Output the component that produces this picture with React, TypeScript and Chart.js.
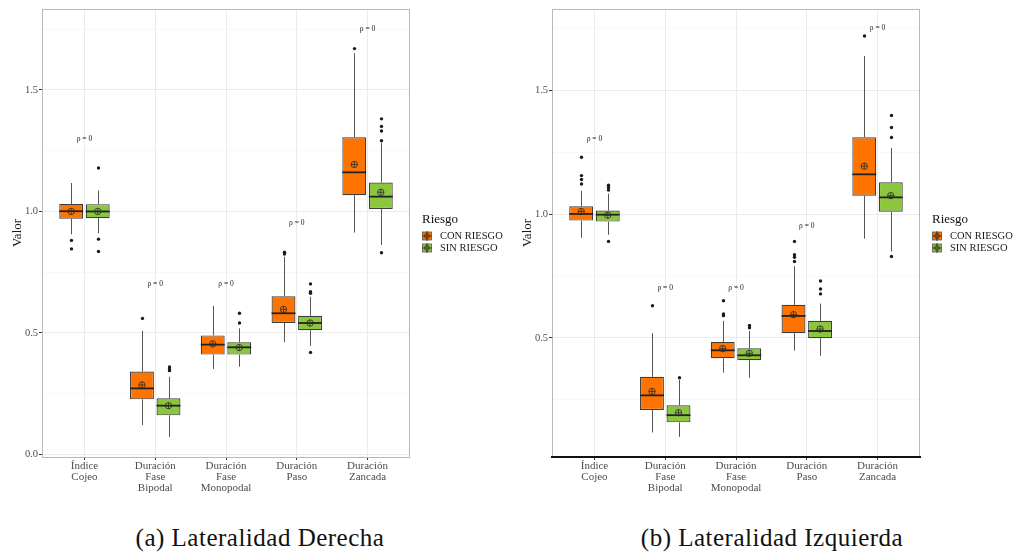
import React, { useEffect, useRef } from "react";
import { Chart, registerables } from "chart.js";
Chart.register(...registerables);

const FONT = "'Liberation Serif', 'Times New Roman', Times, serif";

const categories = [
  ["Índice", "Cojeo"],
  ["Duración", "Fase", "Bipodal"],
  ["Duración", "Fase", "Monopodal"],
  ["Duración", "Paso"],
  ["Duración", "Zancada"],
];
const seriesNames = ["CON RIESGO", "SIN RIESGO"];
const seriesColors = ["#FF7400", "#8CC63F"];
const yTickValues = [0, 0.25, 0.5, 0.75, 1.0, 1.25, 1.5, 1.75];

// ---- (a) Lateralidad Derecha ----
const derConQ1 = [0.970, 0.227, 0.411, 0.541, 1.067];
const derConMed = [1.001, 0.272, 0.452, 0.581, 1.161];
const derConQ3 = [1.031, 0.341, 0.490, 0.651, 1.305];
const derConLo = [0.906, 0.121, 0.352, 0.462, 0.913];
const derConHi = [1.117, 0.509, 0.611, 0.814, 1.651];
const derConMean = [1.000, 0.286, 0.455, 0.597, 1.193];
const derConOut = [[0.881, 0.846], [0.560], [], [0.825, 0.832], [1.670]];

const derSinQ1 = [0.972, 0.161, 0.411, 0.511, 1.010];
const derSinMed = [1.000, 0.201, 0.441, 0.541, 1.061];
const derSinQ3 = [1.030, 0.231, 0.462, 0.571, 1.119];
const derSinLo = [0.910, 0.072, 0.361, 0.447, 0.862];
const derSinHi = [1.086, 0.320, 0.519, 0.649, 1.281];
const derSinMean = [1.000, 0.201, 0.440, 0.541, 1.079];
const derSinOut = [[1.179, 0.886, 0.835], [0.360, 0.352, 0.345], [0.581, 0.541], [0.702, 0.670, 0.663, 0.420], [1.291, 1.331, 1.350, 1.381, 0.830]];

const derPLabelY = [1.30, 0.70, 0.70, 0.953, 1.752];

// ---- (b) Lateralidad Izquierda ----
const izqConQ1 = [0.974, 0.209, 0.418, 0.519, 1.075];
const izqConMed = [1.001, 0.268, 0.450, 0.589, 1.161];
const izqConQ3 = [1.032, 0.343, 0.484, 0.634, 1.311];
const izqConLo = [0.905, 0.118, 0.360, 0.449, 0.901];
const izqConHi = [1.095, 0.519, 0.569, 0.790, 1.639];
const izqConMean = [1.011, 0.284, 0.457, 0.594, 1.194];
const izqConOut = [[1.122, 1.140, 1.156, 1.230], [0.630], [0.590, 0.597, 0.650], [0.809, 0.826, 0.836, 0.890], [1.720]];

const izqSinQ1 = [0.970, 0.159, 0.410, 0.499, 1.010];
const izqSinMed = [0.998, 0.188, 0.430, 0.528, 1.068];
const izqSinQ3 = [1.015, 0.228, 0.458, 0.569, 1.129];
const izqSinLo = [0.917, 0.100, 0.339, 0.428, 0.849];
const izqSinHi = [1.083, 0.330, 0.528, 0.639, 1.268];
const izqSinMean = [0.996, 0.198, 0.438, 0.536, 1.075];
const izqSinOut = [[1.098, 1.108, 1.117, 0.890], [0.339], [0.541, 0.550], [0.678, 0.698, 0.730], [1.310, 1.350, 1.399, 0.829]];

const izqPLabelY = [1.302, 0.701, 0.701, 0.951, 1.752];

type Stats = { q1: number[]; med: number[]; q3: number[]; lo: number[]; hi: number[]; mean: number[]; out: number[][] };

const derStats: Stats[] = [
  { q1: derConQ1, med: derConMed, q3: derConQ3, lo: derConLo, hi: derConHi, mean: derConMean, out: derConOut },
  { q1: derSinQ1, med: derSinMed, q3: derSinQ3, lo: derSinLo, hi: derSinHi, mean: derSinMean, out: derSinOut },
];
const izqStats: Stats[] = [
  { q1: izqConQ1, med: izqConMed, q3: izqConQ3, lo: izqConLo, hi: izqConHi, mean: izqConMean, out: izqConOut },
  { q1: izqSinQ1, med: izqSinMed, q3: izqSinQ3, lo: izqSinLo, hi: izqSinHi, mean: izqSinMean, out: izqSinOut },
];

const isMajor = (v: number) => Math.abs(Math.round(v * 2) - v * 2) < 1e-6;

function drawMeanMarker(ctx: CanvasRenderingContext2D, x: number, y: number, r: number) {
  ctx.beginPath();
  ctx.arc(x, y, r, 0, Math.PI * 2);
  ctx.moveTo(x - r, y);
  ctx.lineTo(x + r, y);
  ctx.moveTo(x, y - r);
  ctx.lineTo(x, y + r);
  ctx.stroke();
}

function BoxPanel(props: { stats: Stats[]; yMin: number; yMax: number; pLabels: number[]; boldBottom: boolean }) {
  const ref = useRef<HTMLCanvasElement>(null);
  useEffect(() => {
    const { stats, yMin, yMax, pLabels, boldBottom } = props;
    let chart: any = null;
    let cancelled = false;
    const datasets = stats.map((s, k) => ({
      label: seriesNames[k],
      data: s.q1.map((v, i) => ({ x: i + 1, y: [v, s.q3[i]] })),
      backgroundColor: seriesColors[k],
      borderColor: "#3d3d3d",
      borderWidth: 1.2,
      borderSkipped: false,
      categoryPercentage: 0.75,
      barPercentage: 0.9,
    }));

    const extras = {
      id: "boxExtras",
      beforeDatasetsDraw(c: any) {
        const ctx = c.ctx;
        const ys = c.scales.y;
        ctx.save();
        ctx.strokeStyle = "#555";
        ctx.lineWidth = 1;
        stats.forEach((s, k) => {
          const meta = c.getDatasetMeta(k);
          meta.data.forEach((el: any, i: number) => {
            const x = Math.round(el.x) + 0.5;
            ctx.beginPath();
            ctx.moveTo(x, ys.getPixelForValue(s.q3[i]));
            ctx.lineTo(x, ys.getPixelForValue(s.hi[i]));
            ctx.moveTo(x, ys.getPixelForValue(s.q1[i]));
            ctx.lineTo(x, ys.getPixelForValue(s.lo[i]));
            ctx.stroke();
          });
        });
        ctx.restore();
      },
      afterDatasetsDraw(c: any) {
        const ctx = c.ctx;
        const ys = c.scales.y;
        const xs = c.scales.x;
        const area = c.chartArea;
        ctx.save();
        stats.forEach((s, k) => {
          const meta = c.getDatasetMeta(k);
          meta.data.forEach((el: any, i: number) => {
            const x = el.x;
            const w = el.width;
            ctx.strokeStyle = "#222";
            ctx.lineWidth = 1.8;
            const ym = ys.getPixelForValue(s.med[i]);
            ctx.beginPath();
            ctx.moveTo(x - w / 2, ym);
            ctx.lineTo(x + w / 2, ym);
            ctx.stroke();
            ctx.lineWidth = 0.8;
            ctx.strokeStyle = "#2a2a2a";
            drawMeanMarker(ctx, x, ys.getPixelForValue(s.mean[i]), 3.2);
            ctx.fillStyle = "#1a1a1a";
            s.out[i].forEach((v) => {
              ctx.beginPath();
              ctx.arc(Math.round(el.x) + 0.5, ys.getPixelForValue(v), 1.7, 0, Math.PI * 2);
              ctx.fill();
            });
          });
        });
        ctx.fillStyle = "#222";
        ctx.font = `7.5px ${FONT}`;
        ctx.textAlign = "center";
        ctx.textBaseline = "middle";
        pLabels.forEach((v, i) => {
          ctx.fillText("ρ = 0", xs.getPixelForValue(i + 1), ys.getPixelForValue(v));
        });
        ctx.strokeStyle = "#b8b8b8";
        ctx.lineWidth = 1;
        ctx.strokeRect(area.left + 0.5, area.top + 0.5, area.right - area.left - 1, area.bottom - area.top);
        if (boldBottom) {
          ctx.strokeStyle = "#111";
          ctx.lineWidth = 2;
          ctx.beginPath();
          ctx.moveTo(area.left - 1, area.bottom);
          ctx.lineTo(area.right + 1, area.bottom);
          ctx.stroke();
        }
        ctx.restore();
      },
      afterDraw(c: any) {
        const ctx = c.ctx;
        const area = c.chartArea;
        const lx = area.right + 12;
        ctx.save();
        ctx.fillStyle = "#111";
        ctx.font = `13px ${FONT}`;
        ctx.textAlign = "left";
        ctx.textBaseline = "alphabetic";
        ctx.fillText("Riesgo", lx, 223);
        ctx.font = `10.5px ${FONT}`;
        ctx.textBaseline = "middle";
        seriesNames.forEach((name, k) => {
          const cy = 236 + k * 12;
          ctx.fillStyle = seriesColors[k];
          ctx.fillRect(lx + 0.5, cy - 4, 9, 8);
          ctx.strokeStyle = "#555";
          ctx.lineWidth = 0.8;
          ctx.strokeRect(lx + 0.5, cy - 4, 9, 8);
          ctx.strokeStyle = "#222";
          ctx.beginPath();
          ctx.moveTo(lx + 0.5, cy);
          ctx.lineTo(lx + 9.5, cy);
          ctx.moveTo(lx + 5, cy - 5);
          ctx.lineTo(lx + 5, cy + 5);
          ctx.stroke();
          ctx.beginPath();
          ctx.arc(lx + 5, cy, 2.4, 0, Math.PI * 2);
          ctx.stroke();
          ctx.fillStyle = "#1a1a1a";
          ctx.fillText(name, lx + 18, cy + 0.5);
        });
        ctx.restore();
      },
    };

    const build = () => {
      if (cancelled || !ref.current) return;
      chart = new Chart(ref.current as HTMLCanvasElement, {
        type: "bar",
        data: { datasets: datasets as any },
        options: {
          animation: false,
          responsive: false,
          maintainAspectRatio: false,
          layout: { padding: { top: 9, right: 100, bottom: 0, left: 0 } },
          plugins: { legend: { display: false }, tooltip: { enabled: false } },
          scales: {
            x: {
              type: "linear",
              min: 0.4,
              max: 5.6,
              offset: false,
              afterBuildTicks: (a: any) => {
                a.ticks = [1, 2, 3, 4, 5].map((v) => ({ value: v }));
              },
              afterFit: (s: any) => {
                s.height = 43;
              },
              ticks: {
                callback: (v: any) => categories[Math.round(v) - 1],
                font: { family: FONT, size: 11, lineHeight: 1.0 },
                color: "#4d4d4d",
                padding: 1,
                maxRotation: 0,
                autoSkip: false,
              },
              grid: { offset: false, color: "#ebebeb", lineWidth: 1, tickColor: "#333", tickLength: 3 },
              border: { display: false },
            } as any,
            y: {
              min: yMin,
              max: yMax,
              afterBuildTicks: (a: any) => {
                a.ticks = yTickValues.filter((v) => v >= yMin && v <= yMax).map((v) => ({ value: v }));
              },
              afterFit: (s: any) => {
                s.width = 42;
              },
              ticks: {
                callback: (v: any) => (isMajor(v) ? Number(v).toFixed(1) : ""),
                font: { family: FONT, size: 10.5 },
                color: "#4d4d4d",
                padding: 1,
                autoSkip: false,
              },
              grid: {
                color: (c: any) => (isMajor(c.tick.value) ? "#ebebeb" : "#f5f5f5"),
                lineWidth: (c: any) => (isMajor(c.tick.value) ? 1 : 0.7),
                tickColor: (c: any) => (isMajor(c.tick.value) ? "#333" : "rgba(0,0,0,0)"),
                tickLength: 3,
              },
              border: { display: false },
              title: {
                display: true,
                text: "Valor",
                font: { family: FONT, size: 13 },
                color: "#1a1a1a",
                padding: { top: 10, bottom: 0 },
              },
            } as any,
          },
        },
        plugins: [extras],
      });
    };
    const fonts: any = (document as any).fonts;
    if (fonts && fonts.load) {
      Promise.all([
        fonts.load(`11px 'Liberation Serif'`),
        fonts.ready,
      ]).then(build, build);
    } else {
      build();
    }
    return () => {
      cancelled = true;
      if (chart) chart.destroy();
    };
  }, []);
  return <canvas ref={ref} width={510} height={500} style={{ display: "block", width: 510, height: 500 }} />;
}

export default function App() {
  const captionStyle: React.CSSProperties = {
    position: "absolute",
    top: 524,
    width: 440,
    textAlign: "center",
    fontFamily: FONT,
    fontSize: 25,
    letterSpacing: "0.5px",
    lineHeight: "28px",
    color: "#111",
    whiteSpace: "nowrap",
  };
  return (
    <div style={{ position: "absolute", left: 0, top: 0, width: 1020, height: 554, background: "#fff", overflow: "hidden", fontFamily: FONT }}>
      <div style={{ position: "absolute", left: 0, top: 0 }}>
        <BoxPanel stats={derStats} yMin={-0.0103} yMax={1.833} pLabels={derPLabelY} boldBottom={false} />
      </div>
      <div style={{ position: "absolute", left: 510, top: 0 }}>
        <BoxPanel stats={izqStats} yMin={0.019} yMax={1.829} pLabels={izqPLabelY} boldBottom={true} />
      </div>
      <div style={{ ...captionStyle, left: 40 }}>(a) Lateralidad Derecha</div>
      <div style={{ ...captionStyle, left: 552 }}>(b) Lateralidad Izquierda</div>
    </div>
  );
}
